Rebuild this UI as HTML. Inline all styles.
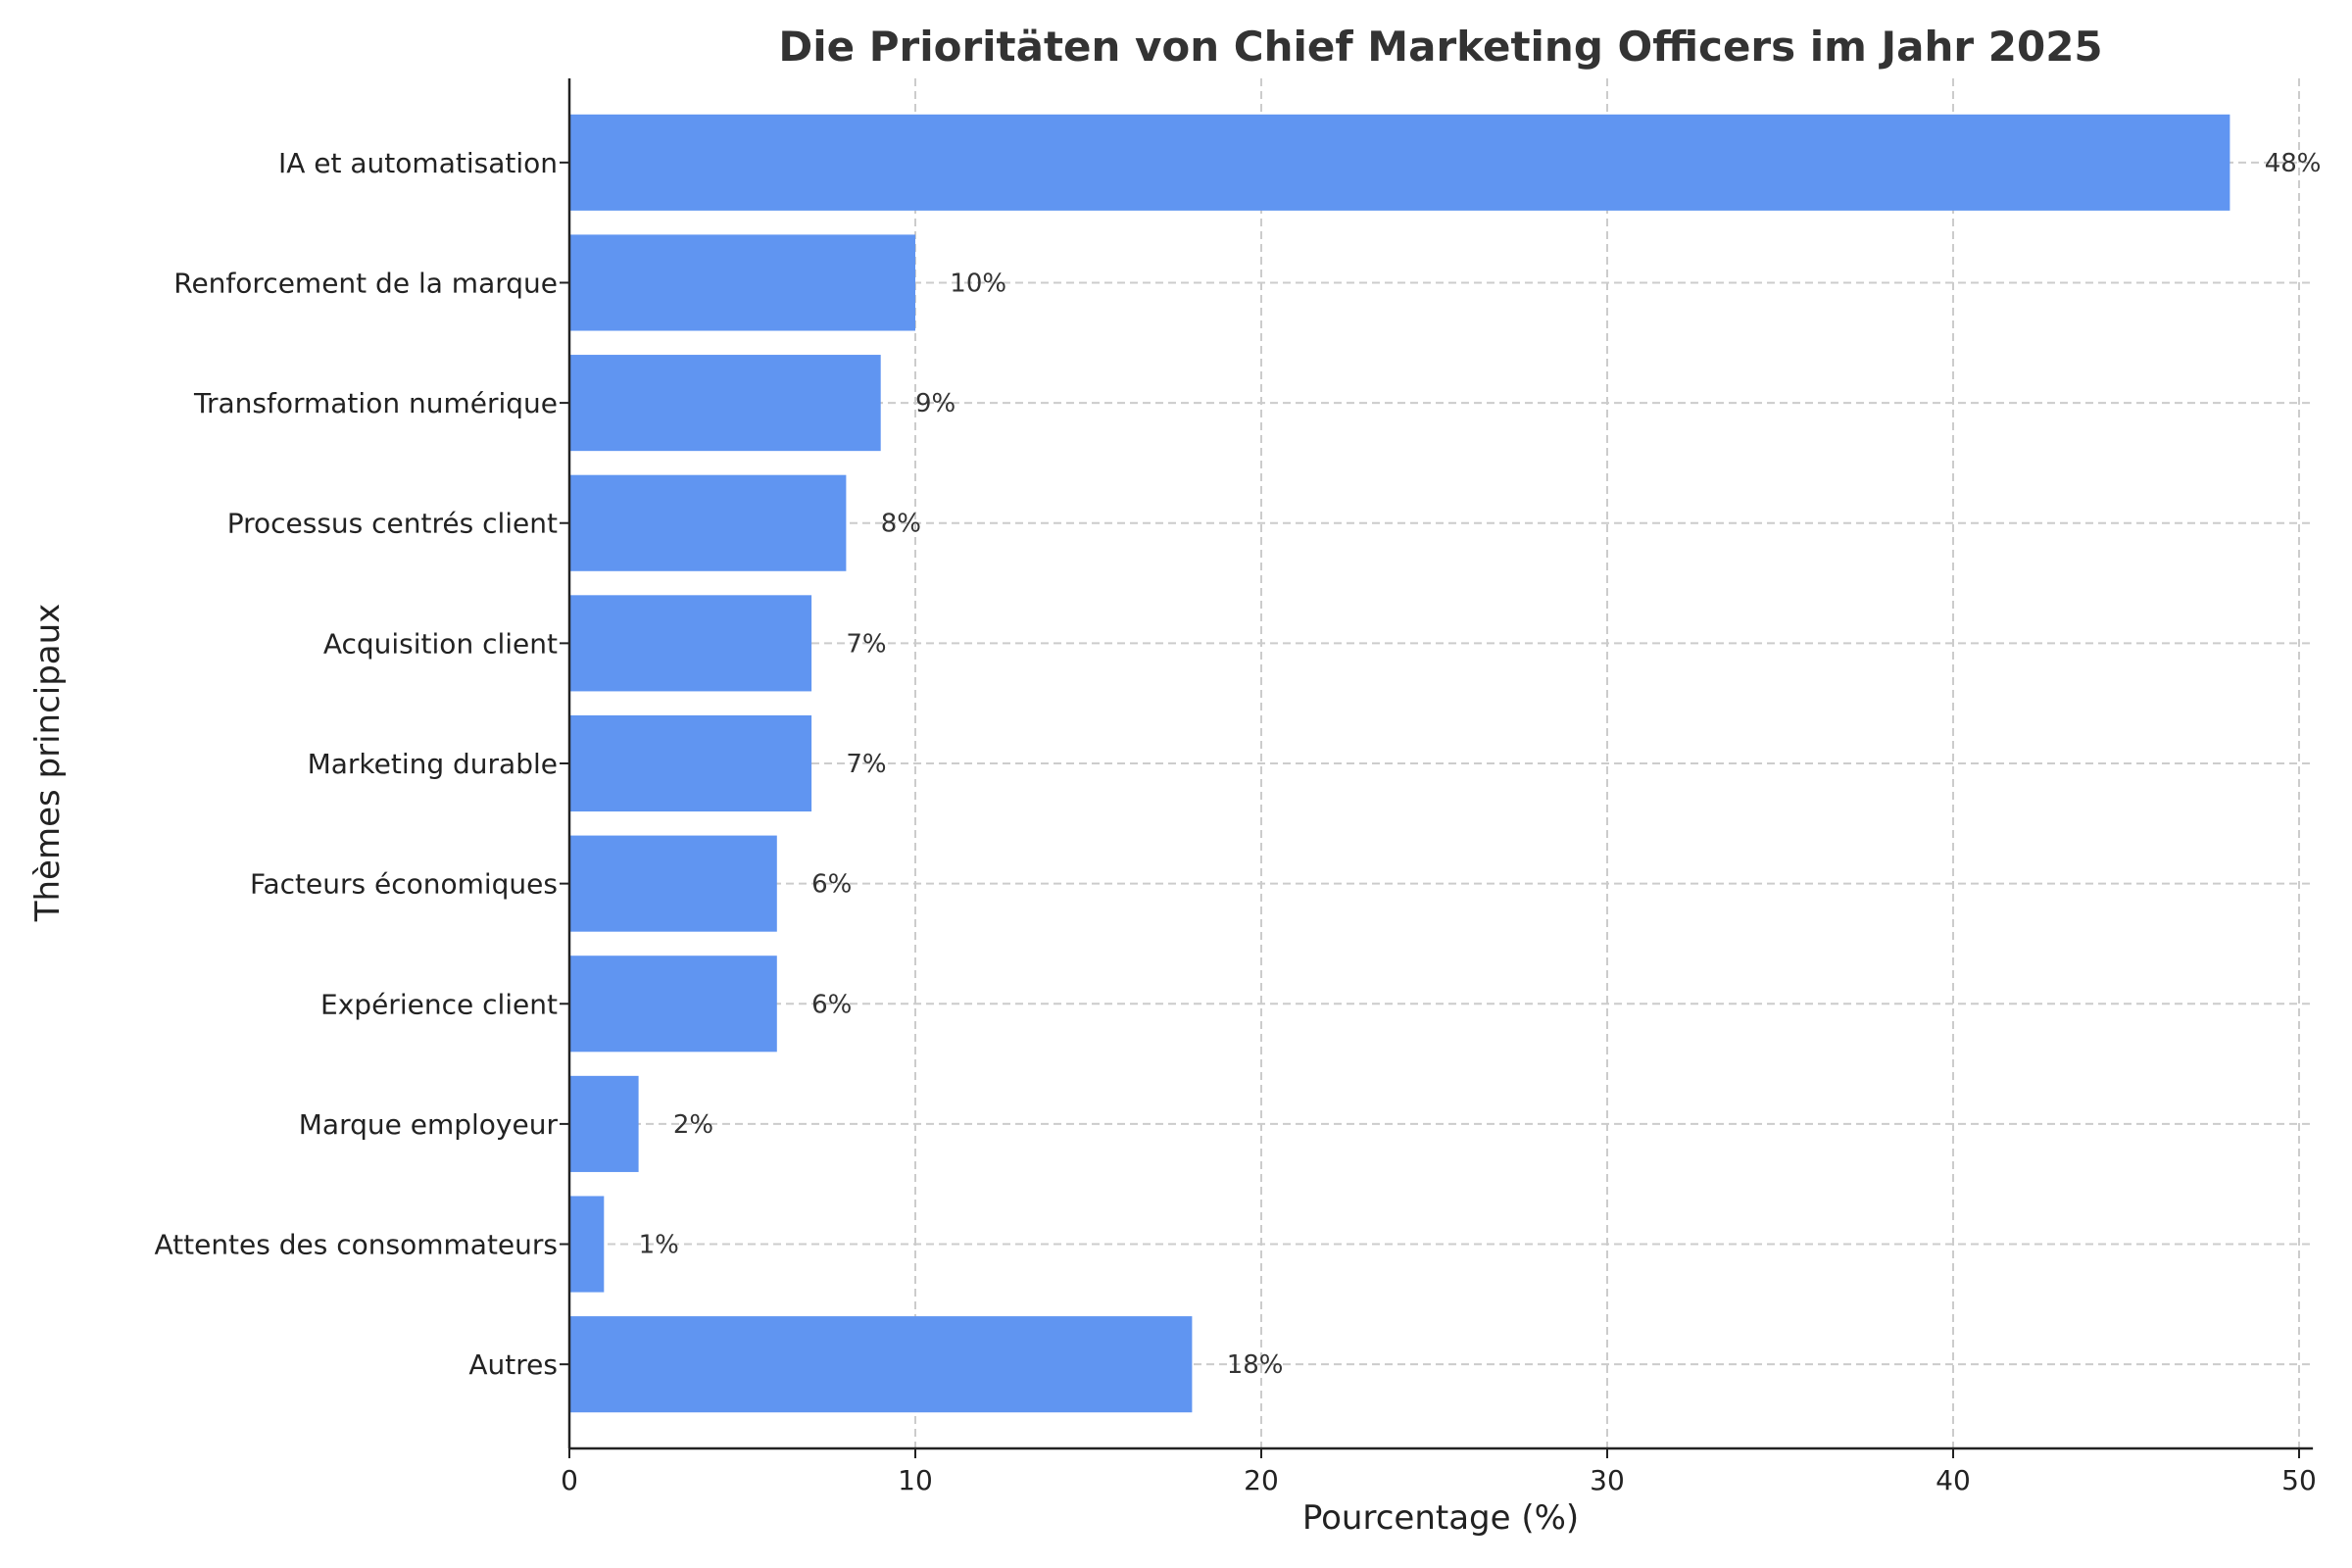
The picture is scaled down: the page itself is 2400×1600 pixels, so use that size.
<!DOCTYPE html>
<html><head><meta charset="utf-8"><style>
html,body{margin:0;padding:0;background:#fff;}
svg{display:block;font-family:"DejaVu Sans","Liberation Sans",sans-serif;}
</style></head><body>
<svg id="chart" width="2400" height="1600" viewBox="0 0 2400 1600" xmlns="http://www.w3.org/2000/svg">
<rect width="2400" height="1600" fill="#fff"/>
<text x="1470" y="62" text-anchor="middle" font-size="42" font-weight="bold" fill="#333">Die Prioritäten von Chief Marketing Officers im Jahr 2025</text>
<g id="grid"></g>
<g id="bars"></g>
<g id="axes"></g>
<text x="1470" y="1560" text-anchor="middle" font-size="34" fill="#222">Pourcentage (%)</text>
<text transform="translate(60,778) rotate(-90)" text-anchor="middle" font-size="34" fill="#222">Thèmes principaux</text>
</svg>
<script>
const categories = ["IA et automatisation","Renforcement de la marque","Transformation numérique","Processus centrés client","Acquisition client","Marketing durable","Facteurs économiques","Expérience client","Marque employeur","Attentes des consommateurs","Autres"];
const values = [48,10,9,8,7,7,6,6,2,1,18];
const xTicks = [0,10,20,30,40,50];

const NS="http://www.w3.org/2000/svg";
const L=581,T=80,B=1478,XMAX=50.4,PX=35.3;
const R=L+XMAX*PX;
const x=v=>L+v*PX;
const step=(B-T)/(categories.length+0.4);
const y=i=>T+step*0.7+i*step;
function mk(tag,attrs,parent){const e=document.createElementNS(NS,tag);for(const k in attrs)e.setAttribute(k,attrs[k]);parent.appendChild(e);return e;}
const grid=document.getElementById('grid'),bars=document.getElementById('bars'),axes=document.getElementById('axes');
xTicks.forEach(t=>{
  const g=mk('line',{x1:x(t),x2:x(t),y1:T,y2:B,stroke:'#ccc','stroke-width':2,'stroke-dasharray':'8,5'},grid);
  
  
  const tk=mk('line',{x1:x(t),x2:x(t),y1:B,y2:B+10,stroke:'#222','stroke-width':2},axes);
  
  
  const tl=mk('text',{x:x(t),y:B+42,'text-anchor':'middle','font-size':28,fill:'#222'},axes);
  tl.textContent=t;
  
  
});
categories.forEach((c,i)=>{
  const cy=y(i);
  const gl=mk('line',{x1:L,x2:R,y1:cy,y2:cy,stroke:'#ccc','stroke-width':2,'stroke-dasharray':'8,5'},grid);
  
  
  const h=step*0.8;
  const r=mk('rect',{x:L,y:cy-h/2,width:x(values[i])-L,height:h,fill:'#6095f1'},bars);
  
  
  const vl=mk('text',{x:x(values[i]+1),y:cy+9,'font-size':26,fill:'#333'},bars);
  vl.textContent=values[i]+'%';
  
  
  const tk=mk('line',{x1:L-10,x2:L,y1:cy,y2:cy,stroke:'#222','stroke-width':2},axes);
  
  
  const cl=mk('text',{x:L-12,y:cy+10,'text-anchor':'end','font-size':28,fill:'#222'},axes);
  cl.textContent=c;
  
  
});
const ya=mk('line',{x1:L,x2:L,y1:T,y2:B,stroke:'#222','stroke-width':2.5},axes);


const xa=mk('line',{x1:L,x2:R,y1:B,y2:B,stroke:'#222','stroke-width':2.5},axes);


</script>
</body></html>
